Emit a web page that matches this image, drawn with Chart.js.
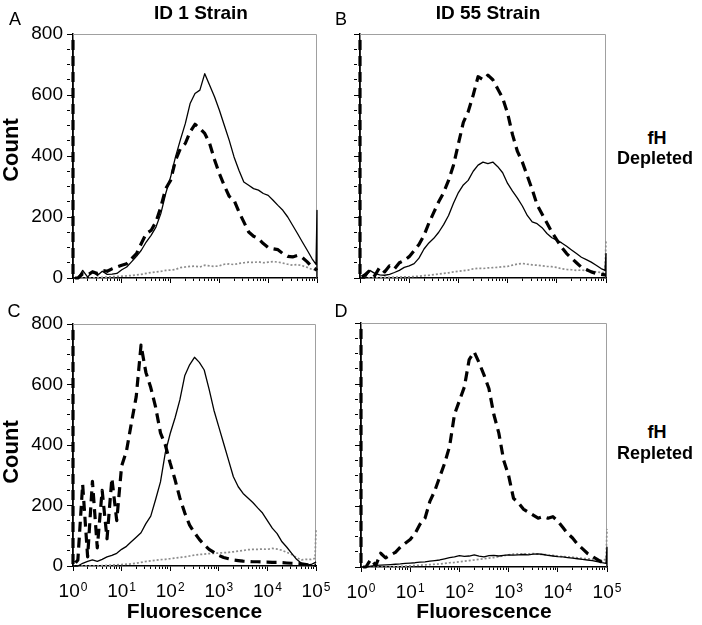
<!DOCTYPE html>
<html>
<head>
<meta charset="utf-8">
<script src="https://cdn.jsdelivr.net/npm/chart.js@4.4.1/dist/chart.umd.min.js"></script>
<style>
  body { margin: 0; background: #fff; }
  #wrap { position: relative; width: 702px; height: 625px; overflow: hidden; font-family: 'Liberation Sans', Arial, sans-serif; color: #000; }
  #wrap canvas { position: absolute; }
  .txt { position: absolute; line-height: 1; white-space: nowrap; transform: translate(-50%, -50%); }
  .b { font-weight: bold; }
  .rot { transform: translate(-50%, -50%) rotate(-90deg); }
</style>
</head>
<body>
<div id="wrap">
  <canvas id="chartA" width="345" height="300" style="left:0;top:0"></canvas>
  <canvas id="chartB" width="290" height="300" style="left:345px;top:0"></canvas>
  <canvas id="chartC" width="345" height="325" style="left:0;top:300px"></canvas>
  <canvas id="chartD" width="290" height="325" style="left:345px;top:300px"></canvas>

  <div class="txt" style="left:15px;top:19px;font-size:18px">A</div>
  <div class="txt" style="left:341px;top:19px;font-size:18px">B</div>
  <div class="txt" style="left:14px;top:311px;font-size:18px">C</div>
  <div class="txt" style="left:341px;top:311px;font-size:18px">D</div>
  <div class="txt b" style="left:201px;top:12px;font-size:19px">ID 1 Strain</div>
  <div class="txt b" style="left:488px;top:12px;font-size:19px">ID 55 Strain</div>
  <div class="txt b" style="left:657px;top:138px;font-size:18px">fH</div>
  <div class="txt b" style="left:655px;top:158px;font-size:18px">Depleted</div>
  <div class="txt b" style="left:657px;top:432px;font-size:18px">fH</div>
  <div class="txt b" style="left:655px;top:453px;font-size:18px">Repleted</div>
  <div class="txt b rot" style="left:11px;top:150px;font-size:22px">Count</div>
  <div class="txt b rot" style="left:11px;top:452px;font-size:22px">Count</div>
</div>
<script>
var FONT = "'Liberation Sans', Arial, sans-serif";

// fluorescence channel (log spaced); x=1 and x=1e5 doubled for the edge spikes
var fluo = [1, 1, 1.26, 1.58, 2, 2.51, 3.16, 3.98, 5.01, 6.31, 7.94,
  10, 12.6, 15.8, 20, 25.1, 31.6, 39.8, 50.1, 63.1, 79.4,
  100, 126, 158, 200, 251, 316, 398, 501, 631, 794,
  1000, 1259, 1585, 1995, 2512, 3162, 3981, 5012, 6310, 7943,
  10000, 12589, 15849, 19953, 25119, 31623, 39811, 50119, 63096, 79433,
  95500, 100000, 100000];

// A - ID 1, fH depleted
var aSolid = [780, 0,
  0, 25, 3, 22, 8, 22, 12, 13, 15,
  27, 36, 53, 71, 91, 118, 140, 167, 211, 277,
  331, 397, 452, 506, 572, 605, 616, 670, 632, 594,
  550, 501, 452, 397, 353, 315, 304, 293, 288, 277,
  271, 255, 238, 222, 200, 173, 146, 118, 91, 63,
  45, 222, 0];
var aDashed = [780, 0,
  0, 14, 10, 20, 15, 25, 22, 30, 36,
  42, 47, 63, 80, 113, 146, 156, 184, 233, 293,
  320, 386, 424, 441, 479, 504, 490, 474, 441, 388,
  342, 303, 268, 255, 217, 184, 151, 137, 129, 113,
  100, 96, 93, 80, 71, 69, 74, 67, 53, 36,
  28, 25, 25];
var aDotted = [0, 0,
  0, 0, 0, 0, 1, 2, 3, 4, 5,
  6, 7, 8, 10, 12, 15, 18, 20, 22, 25,
  26, 28, 34, 36, 38, 39, 36, 42, 40, 38,
  40, 45, 46, 44, 48, 50, 52, 51, 53, 50,
  52, 54, 52, 49, 45, 42, 44, 40, 35, 28,
  25, 25, 25];

// B - ID 55, fH depleted
var bSolid = [780, 0,
  0, 25, 15, 10, 9, 12, 18, 25, 35,
  40, 47, 65, 95, 115, 130, 150, 175, 205, 245,
  280, 305, 320, 350, 370, 380, 375, 380, 365, 345,
  310, 285, 262, 236, 205, 184, 178, 165, 146, 132,
  124, 115, 104, 92, 80, 68, 60, 52, 42, 31,
  25, 80, 0];
var bDashed = [780, 0,
  10, 25, 8, 35, 20, 40, 30, 50, 58,
  70, 90, 110, 140, 180, 215, 250, 280, 320, 370,
  440, 510, 545, 600, 660, 650, 665, 650, 620, 590,
  540, 470, 415, 380, 335, 290, 240, 210, 180, 150,
  125, 100, 80, 65, 50, 35, 28, 20, 15, 12,
  10, 10, 10];
var bDotted = [0, 0,
  0, 0, 0, 1, 2, 2, 3, 3, 4,
  4, 5, 6, 8, 9, 11, 13, 15, 17, 20,
  22, 24, 26, 30, 32, 31, 33, 34, 35, 37,
  38, 42, 46, 48, 45, 43, 42, 40, 38, 37,
  35, 30, 28, 27, 25, 26, 24, 22, 20, 18,
  18, 125, 125];

// C - ID 1, fH repleted
var cSolid = [780, 0,
  0, 9, 15, 20, 15, 22, 30, 35, 42,
  55, 65, 80, 95, 110, 140, 165, 220, 278, 375,
  438, 490, 549, 630, 665, 690, 673, 648, 585, 515,
  460, 405, 350, 295, 262, 240, 225, 210, 192, 175,
  150, 125, 107, 80, 62, 42, 22, 9, 3, 5,
  11, 14, 14];
var cDashed = [780, 0,
  20, 270, 30, 280, 60, 250, 90, 290, 150,
  330, 380, 470, 560, 730, 640, 590, 525, 440, 400,
  340, 285, 225, 175, 135, 110, 88, 70, 55, 45,
  35, 28, 24, 20, 18, 16, 15, 14, 14, 13,
  13, 12, 12, 11, 10, 9, 8, 7, 5, 3,
  2, 2, 2];
var cDotted = [0, 0,
  0, 0, 0, 0, 0, 1, 2, 3, 4,
  5, 6, 7, 9, 12, 15, 17, 19, 21, 22,
  24, 26, 28, 30, 33, 36, 38, 39, 41, 42,
  43, 44, 45, 47, 49, 51, 54, 55, 55, 56,
  55, 58, 56, 52, 45, 38, 28, 20, 22, 22,
  25, 120, 120];

// D - ID 55, fH repleted
var dSolid = [780, 0,
  0, 3, 5, 6, 7, 8, 9, 10, 12,
  13, 14, 16, 17, 19, 21, 23, 27, 31, 33,
  37, 35, 36, 40, 36, 33, 37, 38, 36, 38,
  40, 39, 40, 41, 40, 42, 43, 41, 38, 36,
  34, 33, 31, 29, 27, 25, 23, 21, 18, 14,
  12, 65, 0];
var dDashed = [780, 0,
  0, 25, 5, 45, 30, 40, 48, 65, 78,
  90, 110, 140, 160, 215, 250, 295, 340, 395, 500,
  545, 590, 680, 705, 670, 630, 585, 500, 440, 350,
  300, 225, 210, 190, 180, 170, 160, 165, 160, 165,
  150, 130, 110, 95, 75, 60, 45, 35, 25, 15,
  10, 10, 10];
var dDotted = [0, 0,
  0, 0, 0, 0, 0, 0, 1, 2, 3,
  4, 5, 6, 7, 8, 9, 10, 12, 14, 15,
  17, 19, 21, 23, 25, 27, 29, 31, 34, 37,
  40, 42, 43, 43, 43, 44, 42, 41, 40, 38,
  36, 34, 33, 32, 30, 28, 27, 26, 24, 22,
  25, 125, 125];

// axes
var xTicks = [1, 2, 3, 4, 5, 6, 7, 8, 9,
  10, 20, 30, 40, 50, 60, 70, 80, 90,
  100, 200, 300, 400, 500, 600, 700, 800, 900,
  1000, 2000, 3000, 4000, 5000, 6000, 7000, 8000, 9000,
  10000, 20000, 30000, 40000, 50000, 60000, 70000, 80000, 90000, 100000];
var xMajor = [1, 10, 100, 1000, 10000, 100000];
var xExp = ['0', '1', '2', '3', '4', '5'];
var yMax = 800;
var yStep = 50;
var yLabelStep = 200;

// grey top/right frame of the plot box
var frame = {
  id: 'frame',
  beforeDatasetsDraw: function(chart) {
    var a = chart.chartArea, ctx = chart.ctx;
    ctx.save();
    ctx.strokeStyle = '#a0a0a0';
    ctx.lineWidth = 1;
    ctx.beginPath();
    ctx.moveTo(a.left, a.top + 0.5);
    ctx.lineTo(a.right - 0.5, a.top + 0.5);
    ctx.lineTo(a.right - 0.5, a.bottom);
    ctx.stroke();
    ctx.restore();
  }
};

// 10^n labels under the decade ticks
var powerLabels = {
  id: 'powerLabels',
  afterDraw: function(chart, args, opts) {
    if (!opts.show) return;
    var sx = chart.scales.x, ctx = chart.ctx;
    var base = chart.chartArea.bottom + 31;
    ctx.save();
    ctx.fillStyle = '#000';
    ctx.textAlign = 'left';
    ctx.textBaseline = 'alphabetic';
    xMajor.forEach(function(v, i) {
      var px = sx.getPixelForValue(v);
      ctx.font = '19px ' + FONT;
      var w1 = ctx.measureText('10').width;
      ctx.font = '12px ' + FONT;
      var w2 = ctx.measureText(xExp[i]).width;
      var left = px - (w1 + w2 + 1) / 2;
      ctx.font = '19px ' + FONT;
      ctx.fillText('10', left, base);
      ctx.font = '12px ' + FONT;
      ctx.fillText(xExp[i], left + w1 + 1, base - 6);
    });
    ctx.restore();
  }
};

function pts(arr) {
  return arr.map(function(v, i) { return {x: fluo[i], y: v}; });
}

function panel(id, solid, dashed, dotted, cfg) {
  return new Chart(document.getElementById(id), {
    type: 'line',
    data: {
      datasets: [
        { data: pts(dashed), borderColor: '#000', borderWidth: 3.2, borderDash: [10, 6], clip: false },
        { data: pts(solid), borderColor: '#000', borderWidth: 1.3, clip: false },
        { data: pts(dotted), borderColor: '#8c8c8c', borderWidth: 1.7, borderDash: [2, 2], clip: false }
      ]
    },
    options: {
      responsive: false,
      animation: false,
      elements: {
        point: { radius: 0 },
        line: { tension: 0, fill: false, borderJoinStyle: 'round' }
      },
      layout: { padding: cfg.pad },
      plugins: {
        legend: { display: false },
        tooltip: { enabled: false },
        powerLabels: { show: cfg.xLabels }
      },
      scales: {
        x: {
          type: 'logarithmic',
          min: 1,
          max: 100000,
          afterBuildTicks: function(s) {
            s.ticks = xTicks.map(function(v) { return {value: v, major: xMajor.indexOf(v) >= 0}; });
          },
          afterFit: function(s) { s.height = cfg.xh; s.paddingLeft = 0; s.paddingRight = 0; },
          ticks: { display: false },
          grid: {
            drawOnChartArea: false,
            tickLength: 5,
            tickColor: '#000',
            tickWidth: 1,
            tickBorderDash: function(c) {
              return c.tick && xMajor.indexOf(c.tick.value) >= 0 ? [] : [2.5, 20];
            }
          },
          border: { color: '#000', width: 1.5 },
          title: {
            display: cfg.xLabels,
            text: 'Fluorescence',
            color: '#000',
            padding: 0,
            font: { family: FONT, size: 21, weight: 'bold' }
          }
        },
        y: {
          min: 0,
          max: yMax,
          afterFit: function(s) { s.width = cfg.yw; s.paddingTop = 0; s.paddingBottom = 0; },
          ticks: {
            stepSize: yStep,
            autoSkip: false,
            padding: 4,
            color: '#000',
            font: { family: FONT, size: 19 },
            callback: function(v) { return cfg.yLabels && v % yLabelStep === 0 ? v : ''; }
          },
          grid: {
            drawOnChartArea: false,
            tickLength: 6,
            tickColor: '#000',
            tickWidth: 1,
            tickBorderDash: function(c) {
              return c.tick && c.tick.value % yLabelStep === 0 ? [] : [3, 20];
            }
          },
          border: { color: '#000', width: 1.5 }
        }
      }
    },
    plugins: [frame, powerLabels]
  });
}

panel('chartA', aSolid, aDashed, aDotted, { pad: {top: 34, right: 28, bottom: 0, left: 0}, yw: 73, xh: 22, yLabels: true, xLabels: false });
panel('chartB', bSolid, bDashed, bDotted, { pad: {top: 34, right: 29, bottom: 0, left: 0}, yw: 15, xh: 22, yLabels: false, xLabels: false });
panel('chartC', cSolid, cDashed, cDotted, { pad: {top: 24, right: 29, bottom: 0, left: 0}, yw: 73, xh: 59, yLabels: true, xLabels: true });
panel('chartD', dSolid, dDashed, dDotted, { pad: {top: 23, right: 28, bottom: 0, left: 0}, yw: 16, xh: 58, yLabels: false, xLabels: true });
</script>
</body>
</html>
